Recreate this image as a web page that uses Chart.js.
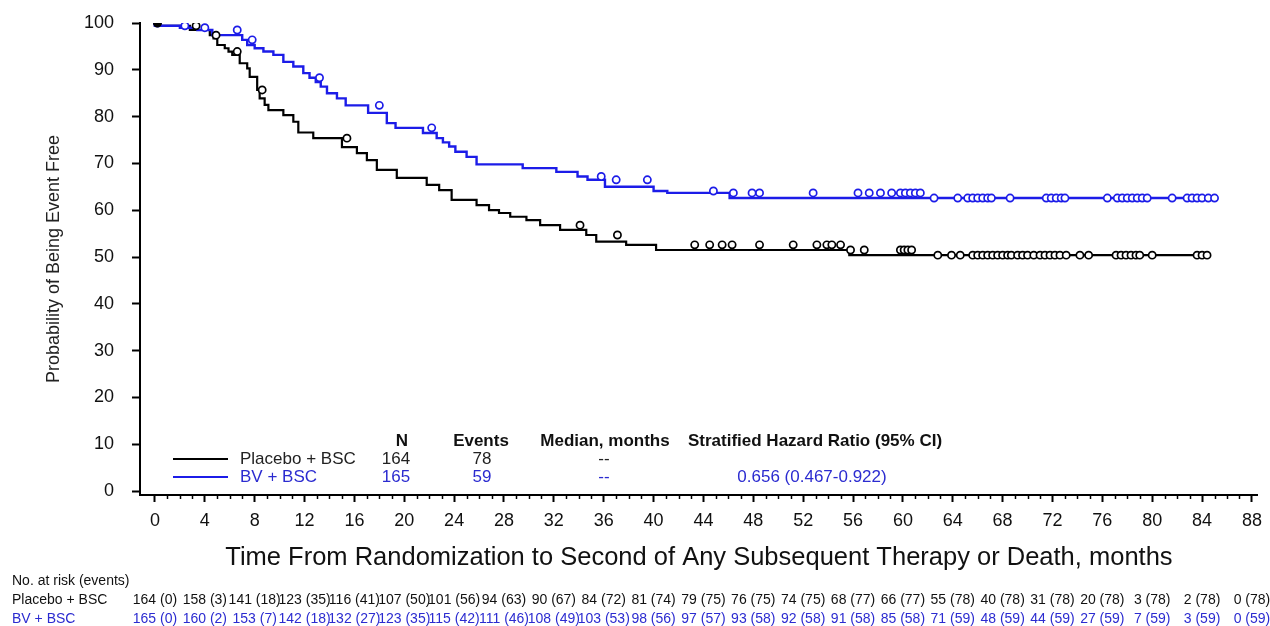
<!DOCTYPE html>
<html><head><meta charset="utf-8">
<script src="https://cdn.jsdelivr.net/npm/chart.js@4.4.1/dist/chart.umd.min.js"></script>
<style>html,body{margin:0;padding:0;background:#fff}#wrap{width:1270px;height:626px;position:relative}</style>
</head><body><div id="wrap"><canvas id="c" width="1270" height="626"></canvas></div>
<script>
// ---------- data ----------
const placeboTimes = [0, 2.8, 4.4, 4.7, 5.0, 5.6, 5.9, 6.2, 6.8, 7.4, 7.6, 8.2, 8.4, 8.8, 9.1, 10.3, 11.1, 11.5, 12.7, 15.0, 16.2, 17.0, 17.8, 19.4, 21.8, 22.8, 23.8, 25.8, 26.8, 27.6, 28.5, 29.8, 30.9, 32.5, 34.6, 35.4, 37.8, 40.2, 55.7, 60.8, 84.4];
const placeboSurv  = [100, 99.4, 98.5, 97.4, 96.7, 95.3, 94.6, 93.9, 93.2, 91.4, 90.3, 88.5, 85.7, 83.9, 82.5, 81.4, 80.3, 78.9, 76.6, 75.4, 73.5, 72.2, 70.7, 68.6, 66.9, 65.4, 64.3, 62.2, 61.1, 60.0, 59.4, 58.6, 57.9, 56.8, 55.8, 54.7, 53.3, 52.6, 51.5, 50.4, 50.4];
const bvTimes = [0, 2.0, 3.4, 4.6, 7.0, 7.4, 8.0, 8.7, 9.5, 10.3, 11.1, 11.9, 12.4, 12.9, 13.3, 13.8, 14.6, 15.3, 17.1, 18.6, 19.3, 21.5, 22.6, 23.1, 23.6, 24.1, 25.0, 25.8, 29.5, 32.2, 33.9, 34.7, 36.1, 40.0, 41.1, 46.1, 62.1, 85.0];
const bvSurv  = [100, 99.4, 99.0, 98.5, 97.4, 96.4, 95.3, 94.6, 93.9, 93.2, 91.7, 90.7, 89.3, 88.3, 87.4, 86.4, 85.0, 83.9, 82.4, 80.8, 78.6, 77.6, 76.5, 75.4, 74.5, 73.6, 72.5, 71.4, 69.8, 69.0, 68.2, 67.2, 66.5, 65.0, 64.1, 63.7, 62.6, 62.6];
const placeboCensor = [0.2, 3.3, 4.9, 6.6, 8.6, 15.4, 34.1, 37.1, 43.3, 44.5, 45.5, 46.3, 48.5, 51.2, 53.1, 53.9, 54.3, 55.0, 55.8, 56.9, 59.8, 60.1, 60.4, 60.7, 62.8, 63.9, 64.6, 65.6, 66.0, 66.4, 66.8, 67.2, 67.6, 68.0, 68.4, 68.7, 69.2, 69.6, 70.0, 70.5, 71.0, 71.4, 71.8, 72.2, 72.6, 73.1, 74.2, 74.9, 77.1, 77.5, 77.9, 78.3, 78.7, 79.0, 80.0, 83.6, 84.0, 84.4];
const bvCensor = [0.2, 2.4, 4.0, 6.6, 7.8, 13.2, 18.0, 22.2, 35.8, 37.0, 39.5, 44.8, 46.4, 47.9, 48.5, 52.8, 56.4, 57.3, 58.2, 59.1, 59.8, 60.2, 60.6, 61.0, 61.4, 62.5, 64.4, 65.2, 65.6, 66.0, 66.4, 66.8, 67.1, 68.6, 71.5, 71.9, 72.3, 72.7, 73.0, 76.4, 77.2, 77.6, 78.0, 78.4, 78.8, 79.2, 79.6, 81.6, 82.8, 83.2, 83.6, 84.0, 84.5, 85.0];
const xTicks = [0,4,8,12,16,20,24,28,32,36,40,44,48,52,56,60,64,68,72,76,80,84,88];
const yTicks = [0,10,20,30,40,50,60,70,80,90,100];
const placeboAtRisk = [164,158,141,123,116,107,101,94,90,84,81,79,76,74,68,66,55,40,31,20,3,2,0];
const placeboEvents = [0,3,18,35,41,50,56,63,67,72,74,75,75,75,77,77,78,78,78,78,78,78,78];
const bvAtRisk = [165,160,153,142,132,123,115,111,108,103,98,97,93,92,91,85,71,48,44,27,7,3,0];
const bvEvents = [0,2,7,18,27,35,42,46,49,53,56,57,58,58,58,58,59,59,59,59,59,59,59];
const seriesNames = ['Placebo + BSC', 'BV + BSC'];
const seriesN = [164, 165];
const seriesEventsTotal = [78, 59];
const seriesMedian = ['--', '--'];
const hazardText = '0.656 (0.467-0.922)';

// ---------- helpers ----------
const BLACK = '#000000', BLUE = '#1c1ce8', BLUE_TXT = '#2b2bd0';
const FONT = "'Liberation Sans', Arial, sans-serif";
const toPts = (ts, ss) => ts.map((t, i) => ({x: t, y: ss[i]}));
function stepValue(ts, ss, t) { let v = ss[0]; for (let i = 0; i < ts.length; i++) if (ts[i] <= t) v = ss[i]; return v; }
const censorPts = (cs, ts, ss) => cs.map(t => ({x: t, y: stepValue(ts, ss, t)}));

const extras = {
  id: 'extras',
  afterDraw(chart) {
    const {ctx, chartArea: ca, scales: {x, y}} = chart;
    ctx.save();
    // minor x ticks
    ctx.strokeStyle = '#000'; ctx.lineWidth = 1.5;
    for (let m = 1; m <= 88; m++) {
      if (m % 4 === 0) continue;
      const px = Math.round(x.getPixelForValue(m)) + 0.5;
      ctx.beginPath(); ctx.moveTo(px, ca.bottom); ctx.lineTo(px, ca.bottom + 4); ctx.stroke();
    }
    // legend table inside plot
    const hy = 441, r1 = 459, r2 = 477;
    ctx.textBaseline = 'middle';
    ctx.fillStyle = '#111';
    ctx.font = "bold 17px " + FONT; ctx.textAlign = 'center';
    ctx.fillText('N', 402, hy);
    ctx.fillText('Events', 481, hy);
    ctx.fillText('Median, months', 605, hy);
    ctx.fillText('Stratified Hazard Ratio (95% CI)', 815, hy);
    const rows = [r1, r2], cols = ['#222', BLUE_TXT], lcols = [BLACK, BLUE];
    for (let i = 0; i < 2; i++) {
      ctx.strokeStyle = lcols[i]; ctx.lineWidth = 2;
      ctx.beginPath(); ctx.moveTo(173, rows[i]); ctx.lineTo(228, rows[i]); ctx.stroke();
      ctx.fillStyle = cols[i]; ctx.font = "17px " + FONT;
      ctx.textAlign = 'left'; ctx.fillText(seriesNames[i], 240, rows[i]);
      ctx.textAlign = 'center';
      ctx.fillText(String(seriesN[i]), 396, rows[i]);
      ctx.fillText(String(seriesEventsTotal[i]), 482, rows[i]);
      ctx.fillText(seriesMedian[i], 604, rows[i]);
    }
    ctx.fillStyle = BLUE_TXT; ctx.fillText(hazardText, 812, r2);
    // at-risk table
    ctx.font = "14px " + FONT; ctx.textAlign = 'left'; ctx.fillStyle = '#111';
    ctx.fillText('No. at risk (events)', 12, 581);
    ctx.fillText(seriesNames[0], 12, 600);
    ctx.fillStyle = BLUE_TXT; ctx.fillText(seriesNames[1], 12, 619);
    ctx.textAlign = 'center';
    xTicks.forEach((t, i) => {
      const px = x.getPixelForValue(t);
      ctx.fillStyle = '#111'; ctx.fillText(placeboAtRisk[i] + ' (' + placeboEvents[i] + ')', px, 600);
      ctx.fillStyle = BLUE_TXT; ctx.fillText(bvAtRisk[i] + ' (' + bvEvents[i] + ')', px, 619);
    });
    ctx.restore();
  }
};

const firstFilled = (col) => (c) => c.dataIndex === 0 ? col : '#ffffff';

new Chart(document.getElementById('c'), {
  type: 'line',
  data: {
    datasets: [
      {label: seriesNames[0], data: toPts(placeboTimes, placeboSurv), borderColor: BLACK, borderWidth: 2.2, stepped: 'after', pointRadius: 0, fill: false, order: 3},
      {label: seriesNames[1], data: toPts(bvTimes, bvSurv), borderColor: BLUE, borderWidth: 2.4, stepped: 'after', pointRadius: 0, fill: false, order: 2},
      {type: 'scatter', label: 'c1', data: censorPts(placeboCensor, placeboTimes, placeboSurv), pointStyle: 'circle', pointRadius: 3.6, borderColor: BLACK, backgroundColor: firstFilled(BLACK), pointBorderWidth: 1.7, showLine: false, order: 0},
      {type: 'scatter', label: 'c2', data: censorPts(bvCensor, bvTimes, bvSurv), pointStyle: 'circle', pointRadius: 3.6, borderColor: BLUE, backgroundColor: firstFilled(BLUE), pointBorderWidth: 1.7, showLine: false, order: 1}
    ]
  },
  options: {
    responsive: false, animation: false, devicePixelRatio: 1,
    layout: {padding: {top: 23, right: 12, bottom: 0, left: 0}},
    plugins: {legend: {display: false}, tooltip: {enabled: false}},
    scales: {
      x: {
        type: 'linear', min: -1.2, max: 88.48,
        afterBuildTicks: s => { s.ticks = xTicks.map(v => ({value: v})); },
        afterFit: s => { s.height = 131; },
        ticks: {font: {family: FONT, size: 18}, color: '#111', padding: 8, maxRotation: 0, autoSkip: false},
        grid: {drawOnChartArea: false, drawTicks: true, tickLength: 7, tickWidth: 2, tickColor: '#000'},
        border: {display: true, color: '#000', width: 2},
        title: {display: true, text: 'Time From Randomization to Second of Any Subsequent Therapy or Death, months', font: {family: FONT, size: 25.5}, color: '#111', padding: {top: 0, bottom: 53}}
      },
      y: {
        type: 'linear', min: -0.85, max: 100,
        afterBuildTicks: s => { s.ticks = yTicks.map(v => ({value: v})); },
        afterFit: s => { s.width = 140; s.paddingTop = 4; s.paddingBottom = 0; },
        ticks: {font: {family: FONT, size: 18}, color: '#111', padding: 18},
        grid: {drawOnChartArea: false, drawTicks: true, tickLength: 8, tickWidth: 2, tickColor: '#000'},
        border: {display: true, color: '#000', width: 2},
        title: {display: true, text: 'Probability of Being Event Free', font: {family: FONT, size: 18}, color: '#222', padding: {top: 43, bottom: 0}}
      }
    }
  },
  plugins: [extras]
});
</script></body></html>
